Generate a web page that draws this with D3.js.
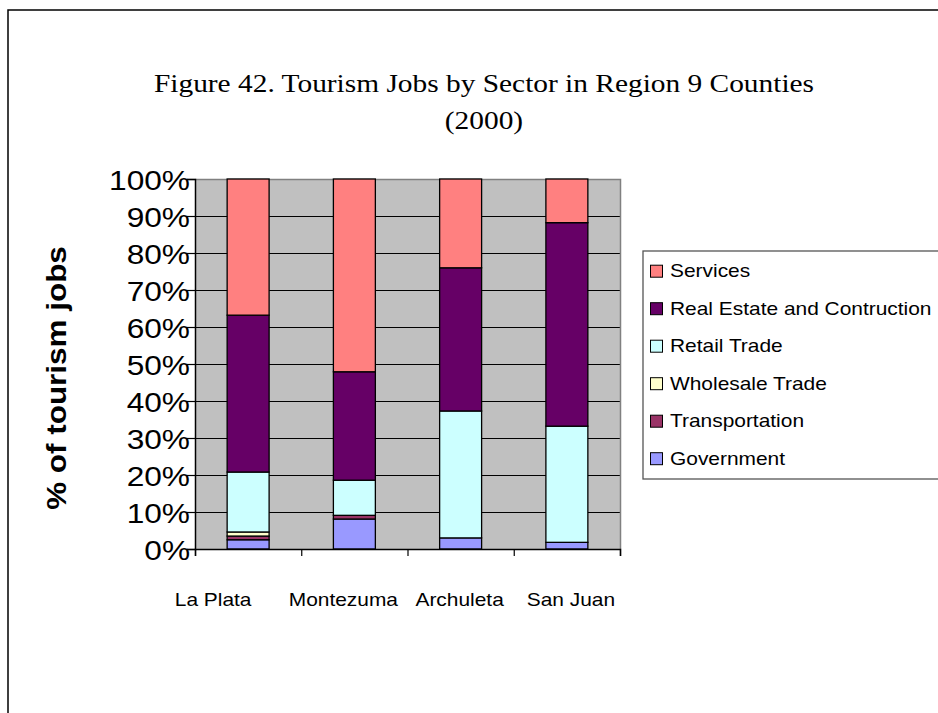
<!DOCTYPE html>
<html><head><meta charset="utf-8">
<script src="https://cdn.jsdelivr.net/npm/d3@7"></script>
<style>body{margin:0;background:#fff;overflow:hidden} svg{display:block}</style>
</head><body>
<svg id="chart" width="938" height="713"></svg>
<script>
// ---- data ----
const counties = ["La Plata", "Montezuma", "Archuleta", "San Juan"];
const sectors = ["Government", "Transportation", "Wholesale Trade", "Retail Trade", "Real Estate and Contruction", "Services"];
const government     = [2.5, 8.1, 3.0, 1.8];
const transportation = [1.0, 1.0, 0.0, 0.0];
const wholesaleTrade = [1.1, 0.0, 0.0, 0.0];
const retailTrade    = [16.2, 9.5, 34.3, 31.4];
const realEstate     = [42.4, 29.3, 38.7, 55.0];
const servicesJobs   = [36.8, 52.1, 24.0, 11.8];
const yTicks = [0, 10, 20, 30, 40, 50, 60, 70, 80, 90, 100];
const colors = ["#9999FF", "#993366", "#FFFFCC", "#CCFFFF", "#660066", "#FF8080"];
const titleLines = ["Figure 42. Tourism Jobs by Sector in Region 9 Counties", "(2000)"];
const yTitle = "% of tourism jobs";

const seriesValues = [government, transportation, wholesaleTrade, retailTrade, realEstate, servicesJobs];
const rows = counties.map((c, i) => {
  const r = { county: c };
  sectors.forEach((s, j) => r[s] = seriesValues[j][i]);
  return r;
});

// ---- layout ----
const svg = d3.select("#chart");
const SX = 1.13; // horizontal glyph stretch of the original rendering
const labelShift = [-35, -11, -1, 4]; // category label placement (layout only)
function stretch(sel, k) {
  sel.each(function () {
    const w = this.getComputedTextLength();
    if (w > 0) d3.select(this).attr("textLength", w * k).attr("lengthAdjust", "spacingAndGlyphs");
  });
}

// outer frame
svg.append("rect").attr("x", 8).attr("y", 10).attr("width", 1000).attr("height", 1000)
  .attr("fill", "none").attr("stroke", "#000").attr("stroke-width", 1.5);

const plot = { left: 195, right: 620, top: 179, bottom: 549 };

const x = d3.scaleBand().domain(counties).range([plot.left, plot.right]).paddingInner(0.605).paddingOuter(0.3025);
const xEdge = d3.scaleLinear().domain([0, counties.length]).range([plot.left, plot.right]);
const y = d3.scaleLinear().domain([0, 100]).range([plot.bottom, plot.top]);

// plot background
svg.append("rect").attr("x", plot.left).attr("y", plot.top)
  .attr("width", plot.right - plot.left).attr("height", plot.bottom - plot.top)
  .attr("fill", "#C0C0C0");

// gridlines
svg.append("g").selectAll("line").data(yTicks.filter(d => d > 0 && d < 100)).join("line")
  .attr("x1", plot.left).attr("x2", plot.right)
  .attr("y1", d => Math.round(y(d)) + 0.5).attr("y2", d => Math.round(y(d)) + 0.5)
  .attr("stroke", "#000").attr("stroke-width", 1);

// top/right border of plot (gray)
svg.append("path")
  .attr("d", `M${plot.left},${plot.top + 0.5}H${plot.right + 0.5}V${plot.bottom}`)
  .attr("fill", "none").attr("stroke", "#808080").attr("stroke-width", 1.5);

// stacked bars
const stack = d3.stack().keys(sectors)(rows);
svg.append("g").selectAll("g").data(stack).join("g")
  .attr("fill", (d, i) => colors[i])
  .selectAll("rect").data(d => d.filter(p => p[1] - p[0] > 0)).join("rect")
  .attr("x", d => x(d.data.county))
  .attr("width", x.bandwidth())
  .attr("y", d => y(d[1]))
  .attr("height", d => y(d[0]) - y(d[1]))
  .attr("stroke", "#000").attr("stroke-width", 1.3);

// y axis
const yAxis = svg.append("g").attr("transform", `translate(${plot.left},0)`)
  .call(d3.axisLeft(y).tickValues(yTicks).tickFormat(d => d + "%").tickSize(8).tickPadding(-3));
yAxis.select(".domain").attr("stroke", "#000").attr("stroke-width", 1.5);
yAxis.selectAll(".tick line").attr("stroke", "#000").attr("stroke-width", 1.2);
yAxis.selectAll("text").attr("font-family", "Liberation Sans, Arial, sans-serif")
  .attr("font-size", 28).attr("fill", "#000").attr("dy", "0.36em");
stretch(yAxis.selectAll("text"), SX);

// x axis (ticks at category boundaries)
const xAxis = svg.append("g").attr("transform", `translate(0,${plot.bottom})`)
  .call(d3.axisBottom(xEdge).tickValues(d3.range(counties.length + 1)).tickFormat("").tickSize(7));
xAxis.select(".domain").attr("stroke", "#000").attr("stroke-width", 1.5);
xAxis.selectAll(".tick line").attr("stroke", "#000").attr("stroke-width", 1.2);

const xl = svg.append("g").selectAll("text").data(counties).join("text")
  .attr("x", (d, i) => x(d) + x.bandwidth() / 2 + labelShift[i]).attr("y", 606)
  .attr("text-anchor", "middle")
  .attr("font-family", "Liberation Sans, Arial, sans-serif").attr("font-size", 18.5)
  .text(d => d);
stretch(xl, SX);

// y title
const yt = svg.append("text")
  .attr("transform", "translate(66,378) rotate(-90)")
  .attr("text-anchor", "middle")
  .attr("font-family", "Liberation Sans, Arial, sans-serif").attr("font-weight", "bold")
  .attr("font-size", 27).text(yTitle);
stretch(yt, SX * 1.03);

// title
const tt = svg.append("g").selectAll("text").data(titleLines).join("text")
  .attr("x", 484).attr("y", (d, i) => 92 + i * 37)
  .attr("text-anchor", "middle")
  .attr("font-family", "Liberation Serif, Times New Roman, serif").attr("font-size", 26)
  .text(d => d);
stretch(tt, SX);

// legend
const legend = svg.append("g");
legend.append("rect").attr("x", 643).attr("y", 251).attr("width", 400).attr("height", 228)
  .attr("fill", "#fff").attr("stroke", "#555").attr("stroke-width", 1.3);
const legendOrder = sectors.slice().reverse();
const li = legend.selectAll("g.item").data(legendOrder).join("g").attr("class", "item")
  .attr("transform", (d, i) => `translate(0,${270.7 + i * 37.5})`);
li.append("rect").attr("x", 650.5).attr("y", -5.5).attr("width", 12).attr("height", 12)
  .attr("fill", d => colors[sectors.indexOf(d)]).attr("stroke", "#000").attr("stroke-width", 1);
const lt = li.append("text").attr("x", 670).attr("y", 0).attr("dy", "0.36em")
  .attr("font-family", "Liberation Sans, Arial, sans-serif").attr("font-size", 18.5)
  .text(d => d);
stretch(lt, SX);
</script>
</body></html>
